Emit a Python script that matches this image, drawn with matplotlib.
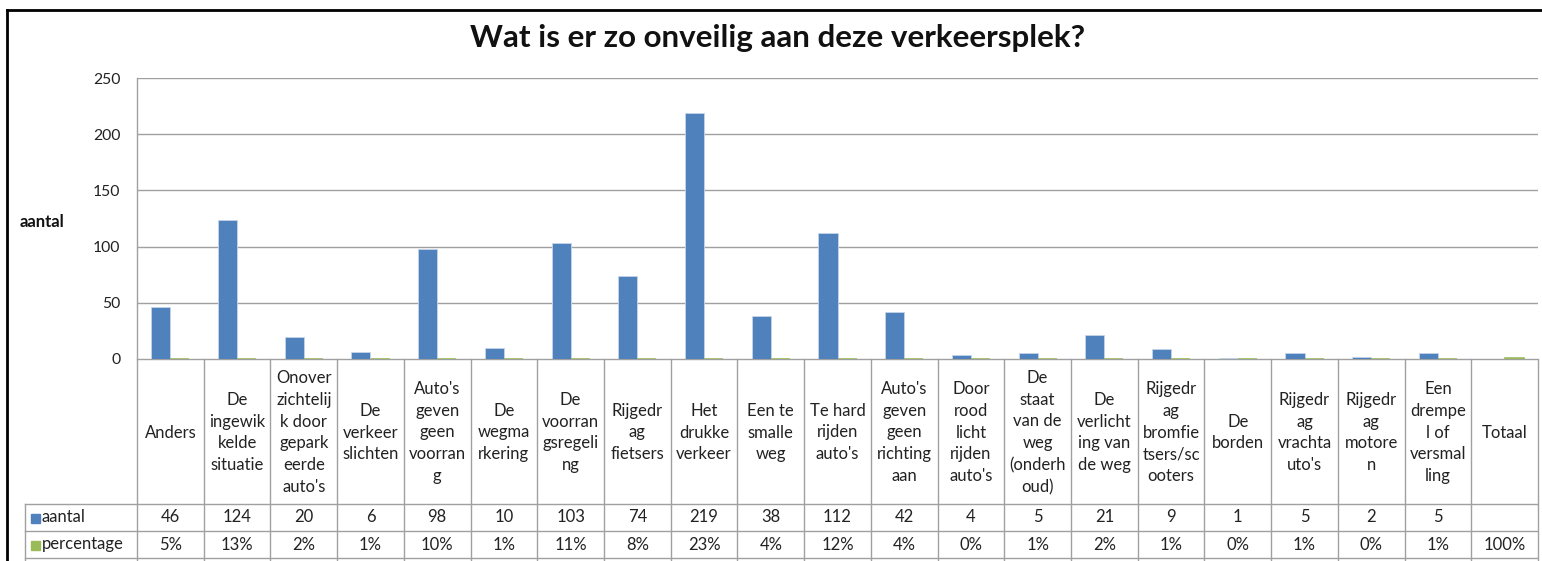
import numpy as np
import matplotlib.pyplot as plt
from matplotlib.lines import Line2D
from matplotlib.patches import Rectangle

plt.rcParams['font.family'] = ['Lato', 'DejaVu Sans']

categories = ["Anders", "De\ningewik\nkelde\nsituatie",
              "Onover\nzichtelij\nk door\ngepark\neerde\nauto's",
              "De\nverkeer\nslichten", "Auto's\ngeven\ngeen\nvoorran\ng",
              "De\nwegma\nrkering", "De\nvoorran\ngsregeli\nng",
              "Rijgedr\nag\nfietsers", "Het\ndrukke\nverkeer",
              "Een te\nsmalle\nweg", "Te hard\nrijden\nauto's",
              "Auto's\ngeven\ngeen\nrichting\naan",
              "Door\nrood\nlicht\nrijden\nauto's",
              "De\nstaat\nvan de\nweg\n(onderh\noud)",
              "De\nverlicht\ning van\nde weg",
              "Rijgedr\nag\nbromfie\ntsers/sc\nooters", "De\nborden",
              "Rijgedr\nag\nvrachta\nuto's", "Rijgedr\nag\nmotore\nn",
              "Een\ndrempe\nl of\nversmal\nling", "Totaal"]
aantal = [46, 124, 20, 6, 98, 10, 103, 74, 219, 38, 112, 42, 4, 5, 21, 9, 1, 5, 2, 5, None]
percentage = [5, 13, 2, 1, 10, 1, 11, 8, 23, 4, 12, 4, 0, 1, 2, 1, 0, 1, 0, 1, 100]

blue = '#4F81BD'
green = '#9BBB59'
grid_c = '#A0A0A0'
txt_c = '#222222'
fs = 11.3
fs_tab = 12

W, H = 1542, 561
fig = plt.figure(figsize=(W / 100, H / 100), dpi=100)

def fx(px):
    return px / W

def fy(py):
    return 1 - py / H

left, right, top, zero = 137, 1538, 78, 359
ax = fig.add_axes([fx(left), fy(zero), fx(right - left), (zero - top) / H])

n = len(categories)
x = np.arange(n)
bw = 0.285
a_vals = np.array([v if v is not None else 0 for v in aantal], dtype=float)
p_vals = np.array(percentage) / 100.0
ax.bar(x - bw / 2, a_vals, bw, color=blue, edgecolor='#C6D5EA', linewidth=0.6, zorder=3)
ax.bar(x + bw / 2, p_vals, bw, color=green, edgecolor=green, linewidth=1.2, zorder=3)

ax.set_xlim(-0.5, n - 0.5)
ax.set_ylim(0, 250)
ax.set_yticks(range(0, 251, 50))
ax.yaxis.grid(True, color=grid_c, linewidth=1.0)
ax.set_axisbelow(True)
ax.set_xticks([])
ax.tick_params(axis='y', length=0, pad=12, labelsize=fs, colors=txt_c)
for s in ['top', 'right', 'bottom']:
    ax.spines[s].set_visible(False)
ax.spines['left'].set_color(grid_c)
ax.spines['left'].set_linewidth(1.0)

# data table below the plot
tab = fig.add_axes([fx(left), 0, fx(right - left), fy(zero)])
tab.set_xlim(-0.5, n - 0.5)
tab.set_ylim(H, zero)
tab.axis('off')
row1, row2, row3 = 504, 531, 558
tab.axhline(zero, color=grid_c, lw=1.0)
for yy in (row1, row2, row3):
    tab.axhline(yy, color=grid_c, lw=1.0)
for k in range(n + 1):
    tab.plot([k - 0.5, k - 0.5], [zero, H], color=grid_c, lw=1.0, clip_on=False)
for i, c in enumerate(categories):
    tab.text(i, (zero + row1) / 2 + 1, c, ha='center', va='center', fontsize=fs_tab,
             linespacing=1.45, color=txt_c)
    if aantal[i] is not None:
        tab.text(i, (row1 + row2) / 2, str(aantal[i]), ha='center', va='center',
                 fontsize=fs_tab, color=txt_c)
    tab.text(i, (row2 + row3) / 2, f"{percentage[i]}%", ha='center', va='center',
             fontsize=fs_tab, color=txt_c)

# legend cells of the table
for yy in (row1, row2, row3):
    fig.add_artist(Line2D([fx(25), fx(left)], [fy(yy), fy(yy)], color=grid_c, lw=1.0))
fig.add_artist(Line2D([fx(25), fx(25)], [fy(row1), fy(H)], color=grid_c, lw=1.0))
for yy, col, lab in ((row1, blue, 'aantal'), (row2, green, 'percentage')):
    fig.add_artist(Rectangle((fx(31), fy(yy + 19)), fx(9), 9 / H, color=col))
    fig.text(fx(42), fy(yy + 13.5), lab, ha='left', va='center', fontsize=fs_tab, color=txt_c)

fig.text(fx(778), fy(38), 'Wat is er zo onveilig aan deze verkeersplek?', ha='center',
         va='center', fontsize=22.6, fontweight='bold', color='#111111')
fig.text(fx(20), fy(222), 'aantal', ha='left', va='center', fontsize=12,
         fontweight='bold', color='#111111')

# outer chart frame
fig.add_artist(Line2D([fx(7), fx(7)], [fy(10), 0], color='black', lw=2))
fig.add_artist(Line2D([fx(7), 1], [fy(10), fy(10)], color='black', lw=2))

fig.savefig('out.png', dpi=100)
